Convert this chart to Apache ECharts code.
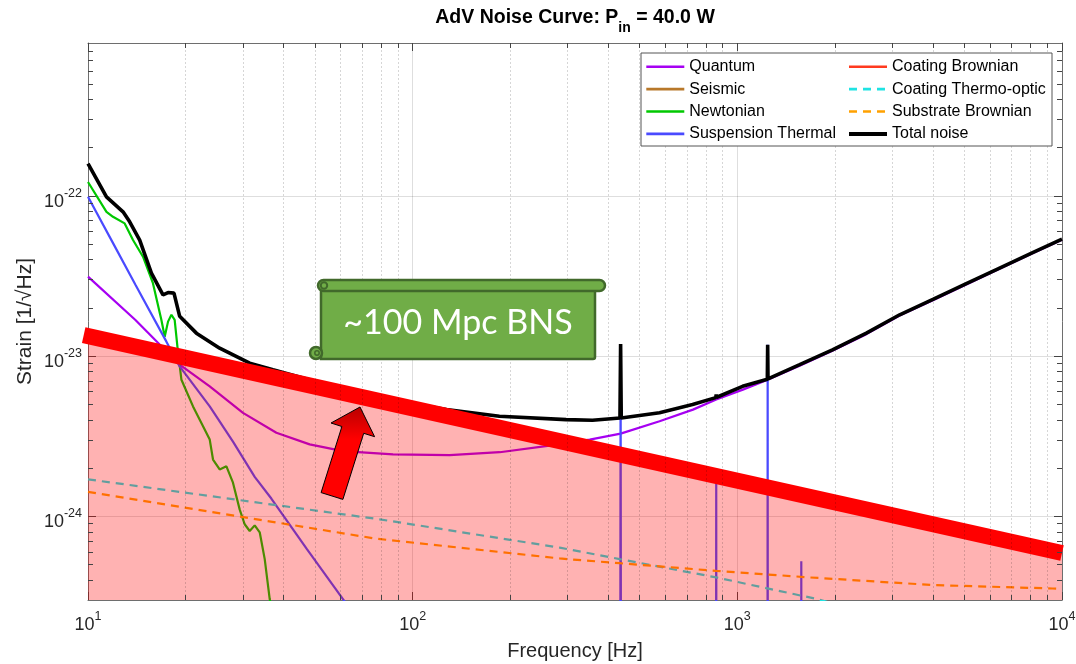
<!DOCTYPE html>
<html><head><meta charset="utf-8">
<script src="https://cdn.jsdelivr.net/npm/echarts@6/dist/echarts.min.js"></script>
<style>html,body{margin:0;padding:0;background:#fff}#c{width:1076px;height:664px}</style>
</head><body><div id="c"></div>
<script>
// ---------------- data ----------------
const quantumF = [10, 14, 19.16, 23.71, 30.02, 38.04, 48.17, 61.0, 87.0, 130, 185.4, 264, 351, 437, 576, 730, 861, 1040, 1240, 1556, 1963, 2497, 3162, 4003, 5073, 6424, 8120, 10000];
const quantumH = [3.13e-23, 1.68e-23, 8.83e-24, 6.47e-24, 4.42e-24, 3.32e-24, 2.81e-24, 2.55e-24, 2.43e-24, 2.41e-24, 2.51e-24, 2.76e-24, 3.01e-24, 3.28e-24, 3.92e-24, 4.63e-24, 5.35e-24, 6.17e-24, 7.11e-24, 8.70e-24, 1.08e-23, 1.37e-23, 1.79e-23, 2.23e-23, 2.80e-23, 3.51e-23, 4.38e-23, 5.33e-23];

const seismicF = [10, 11, 13, 16, 20];
const seismicH = [2.5e-25, 1e-25, 1.5e-26, 1e-27, 3e-29];

const newtonF = [10, 11.4, 11.94, 12.97, 13.76, 14.77, 15.85, 16.83, 17.23, 17.64, 18.07, 18.49, 18.85, 19.40, 21.06, 22.61, 23.71, 24.27, 25.44, 26.69, 27.96, 29.33, 30.38, 31.48, 32.62, 33.80, 35.02, 36.28, 40, 50, 70, 100];
const newtonH = [1.22e-22, 7.95e-23, 7.40e-23, 6.73e-23, 5.30e-23, 4.17e-23, 2.85e-23, 1.68e-23, 1.32e-23, 1.64e-23, 1.81e-23, 1.68e-23, 1.15e-23, 7.11e-24, 4.85e-24, 3.65e-24, 3.01e-24, 2.26e-24, 1.96e-24, 2.05e-24, 1.62e-24, 1.10e-24, 8.91e-25, 8.09e-25, 8.77e-25, 7.94e-25, 5.40e-25, 3.04e-25, 1.2e-25, 1.5e-26, 1e-27, 5e-29];

const suspF = [10, 12, 14, 17.44, 19.16, 23.71, 27.96, 32.62, 36.7, 47.3, 61.0, 80, 120, 200, 300, 435, 437, 439, 600, 858, 861, 864, 1000, 1237, 1240, 1243, 1400, 1571, 1574, 1577, 2000, 5000, 10000];
const suspH = [9.86e-23, 4.98e-23, 2.79e-23, 1.23e-23, 8.61e-24, 4.85e-24, 2.92e-24, 1.76e-24, 1.29e-24, 6.22e-25, 3.04e-25, 1.4e-25, 4e-26, 9e-27, 2.6e-27, 8e-28, 1.19e-23, 8e-28, 3e-28, 1.1e-28, 1.6e-24, 1.1e-28, 7e-29, 3.7e-29, 1.175e-23, 3.7e-29, 2.6e-29, 1.8e-29, 5.24e-25, 1.8e-29, 9e-30, 6e-31, 7e-32];

const coatBrF = [10, 100, 1000, 10000];
const coatBrH = [1.33e-23, 4.7e-24, 1.67e-24, 5.9e-25];

const coatToF = [10, 79.1, 283.6, 434, 861, 1589, 1767, 3000, 10000];
const coatToH = [1.70e-24, 9.57e-25, 6.37e-25, 5.40e-25, 4.15e-25, 3.18e-25, 3.04e-25, 2.2e-25, 8e-26];

const substrF = [10, 77.3, 283.6, 434, 861, 1670, 3995, 9354, 10000];
const substrH = [1.42e-24, 7.24e-25, 5.45e-25, 5.09e-25, 4.56e-25, 4.15e-25, 3.72e-25, 3.54e-25, 3.52e-25];

const totalF = [10, 11.4, 12.82, 13.44, 14.43, 15.68, 17.02, 17.64, 18.40, 19.16, 21.57, 25.44, 31.48, 37.14, 55, 91.2, 127, 185, 297, 358, 435, 437, 439, 576, 728, 858, 861, 864, 1038, 1237, 1240, 1243, 1556, 1963, 2497, 3162, 4003, 5073, 6424, 8120, 10000];
const totalH = [1.59e-22, 9.86e-23, 7.95e-23, 6.89e-23, 5.30e-23, 3.29e-23, 2.41e-23, 2.49e-23, 2.47e-23, 1.77e-23, 1.39e-23, 1.12e-23, 9.03e-24, 8.22e-24, 6.6e-24, 5.21e-24, 4.63e-24, 4.21e-24, 4.01e-24, 3.97e-24, 4.10e-24, 1.19e-23, 4.11e-24, 4.43e-24, 4.98e-24, 5.50e-24, 5.75e-24, 5.53e-24, 6.47e-24, 7.17e-24, 1.175e-23, 7.20e-24, 8.83e-24, 1.093e-23, 1.39e-23, 1.81e-23, 2.26e-23, 2.83e-23, 3.54e-23, 4.42e-23, 5.37e-23];

// ~100 Mpc BNS guide band
const bandF = [9.7, 10000];
const bandH = [1.35e-23, 5.9e-25];
const areaF = [10, 10000];
const areaH = [1.33e-23, 5.9e-25];

const legendLeft = ['Quantum', 'Seismic', 'Newtonian', 'Suspension Thermal'];
const legendRight = ['Coating Brownian', 'Coating Thermo-optic', 'Substrate Brownian', 'Total noise'];
const xMin = 10, xMax = 10000, yMin = 3e-25, yMax = 9e-22;
// -----------------------------------------------------------------

const zip = (f, h) => f.map((v, i) => [v, h[i]]);
const FONT = 'Liberation Sans, Arial, Helvetica, sans-serif';
const chart = echarts.init(document.getElementById('c'), null, {renderer: 'canvas'});

const xMinor = []; [10, 100, 1000].forEach(d => { for (let m = 2; m <= 9; m++) xMinor.push(m * d); });
const yMinor = []; [1e-25, 1e-24, 1e-23, 1e-22].forEach(d => { for (let m = 2; m <= 9; m++) { const v = m * d; if (v > 3.01e-25 && v < 8.99e-22) yMinor.push(v); } });

const minorGrid = [];
xMinor.forEach(v => minorGrid.push({xAxis: v}));
yMinor.forEach(v => minorGrid.push({yAxis: v}));
const minorTicks = [];
xMinor.forEach(v => {
  minorTicks.push([{coord: [v, yMin]}, {coord: [v, yMin * 1.0745]}]);
  minorTicks.push([{coord: [v, yMax]}, {coord: [v, yMax / 1.0745]}]);
});
yMinor.forEach(v => {
  minorTicks.push([{coord: [xMin, v]}, {coord: [xMin * 1.036, v]}]);
  minorTicks.push([{coord: [xMax, v]}, {coord: [xMax / 1.036, v]}]);
});

const isDecade = v => v > 0 && Math.abs(Math.log10(v) - Math.round(Math.log10(v))) < 1e-6;
const labelFmt = v => isDecade(v) ? '{b|10}{e|' + Math.round(Math.log10(v)) + '}' : '';
const labelRich = {
  b: {fontSize: 18, lineHeight: 18, padding: [6, 0, 0, 0], verticalAlign: 'top', color: '#262626', fontFamily: FONT},
  e: {fontSize: 12.5, lineHeight: 12, verticalAlign: 'top', color: '#262626', fontFamily: FONT}
};

function lineSeries(name, f, h, color, width, dashed, z) {
  return {
    name, type: 'line', data: zip(f, h), symbol: 'none', showSymbol: false, silent: true,
    z: z || 2, animation: false,
    lineStyle: {color, width, type: dashed ? [8, 6] : 'solid', cap: 'butt'},
    itemStyle: {color}, emphasis: {disabled: true}
  };
}

const axisCommon = {
  type: 'log', logBase: 10,
  axisLine: {show: true, onZero: false, lineStyle: {color: '#6e6e6e', width: 1}},
  axisTick: {show: true, inside: true, length: 8, lineStyle: {color: '#444', width: 1}},
};
const legendItem = name => ({name, lineStyle: {width: name === 'Total noise' ? 4 : 2.6}});
const legendCommon = {
  orient: 'vertical', top: 58.7, padding: 0, itemWidth: 38, itemHeight: 14, itemGap: 6.4,
  selectedMode: false, z: 60, itemStyle: {opacity: 0, borderWidth: 0},
  textStyle: {fontSize: 16, lineHeight: 16, fontFamily: FONT, color: '#000'}
};

const option = {
  animation: false,
  backgroundColor: '#fff',
  title: {
    text: '{t|AdV Noise Curve: P}{s|in}{t| = 40.0 W}',
    left: 575, top: 8, textAlign: 'center', padding: 0,
    textStyle: {rich: {
      t: {fontSize: 19.5, fontWeight: 'bold', fontFamily: FONT, color: '#000', lineHeight: 22, verticalAlign: 'top'},
      s: {fontSize: 14, fontWeight: 'bold', fontFamily: FONT, color: '#000', lineHeight: 14, padding: [13, 0, 0, 0], verticalAlign: 'top'}
    }}
  },
  grid: {left: 88, right: 14, top: 43, bottom: 64, outerBoundsMode: 'none'},
  xAxis: [
    Object.assign({}, axisCommon, {
      position: 'bottom', min: xMin, max: xMax,
      axisLabel: {formatter: labelFmt, rich: labelRich, margin: 10, showMinLabel: true, showMaxLabel: true},
      splitLine: {show: true, lineStyle: {color: 'rgba(0,0,0,0.13)', width: 1}},
      name: 'Frequency [Hz]', nameLocation: 'middle', nameGap: 41, nameMoveOverlap: false,
      nameTextStyle: {fontSize: 20, fontFamily: FONT, color: '#262626'}
    }),
    Object.assign({}, axisCommon, {
      position: 'top', min: xMin, max: xMax,
      axisLabel: {show: false}, splitLine: {show: false}
    })
  ],
  yAxis: [
    Object.assign({}, axisCommon, {
      position: 'left', min: yMin, max: yMax,
      axisLabel: {formatter: labelFmt, rich: labelRich, margin: 6},
      splitLine: {show: true, lineStyle: {color: 'rgba(0,0,0,0.13)', width: 1}},
      name: 'Strain [1/\u221AHz]', nameLocation: 'middle', nameGap: 52, nameMoveOverlap: false,
      nameTextStyle: {fontSize: 21, fontFamily: FONT, color: '#262626'}
    }),
    Object.assign({}, axisCommon, {
      position: 'right', min: yMin, max: yMax,
      axisLabel: {show: false}, splitLine: {show: false}
    })
  ],
  legend: [
    Object.assign({}, legendCommon, {data: legendLeft.map(legendItem), left: 645}),
    Object.assign({}, legendCommon, {data: legendRight.map(legendItem), left: 847})
  ],
  series: [
    {
      name: '_grid', type: 'line', data: [[10, 1e-30]], symbol: 'none', silent: true, z: 1,
      lineStyle: {opacity: 0},
      markLine: {
        silent: true, symbol: ['none', 'none'], label: {show: false}, animation: false,
        lineStyle: {color: 'rgba(0,0,0,0.16)', width: 1, type: [2, 2]},
        emphasis: {disabled: true},
        data: minorGrid
      }
    },
    {
      name: '_ticks', type: 'line', data: [[10, 1e-30]], symbol: 'none', silent: true, z: 5,
      lineStyle: {opacity: 0},
      markLine: {
        silent: true, symbol: ['none', 'none'], label: {show: false}, animation: false,
        lineStyle: {color: '#444', width: 1, type: 'solid'},
        emphasis: {disabled: true},
        data: minorTicks
      }
    },
    lineSeries('Quantum', quantumF, quantumH, '#A600F2', 2.2),
    lineSeries('Seismic', seismicF, seismicH, '#B8782A', 2),
    lineSeries('Newtonian', newtonF, newtonH, '#00C800', 2.2),
    lineSeries('Suspension Thermal', suspF, suspH, '#4A4AFF', 2.2),
    lineSeries('Coating Brownian', coatBrF, coatBrH, '#FF3A1F', 2.2),
    lineSeries('Coating Thermo-optic', coatToF, coatToH, '#1FE3E3', 2.2, true),
    lineSeries('Substrate Brownian', substrF, substrH, '#FFA100', 2.2, true),
    lineSeries('Total noise', totalF, totalH, '#000000', 3.6),
    {
      name: '_bnsArea', type: 'line', data: zip(areaF, areaH), symbol: 'none', silent: true, z: 3,
      lineStyle: {width: 0, opacity: 0},
      areaStyle: {color: 'rgba(255,0,0,0.3)', opacity: 1, origin: yMin}
    },
    {
      name: '_bnsBand', type: 'line', data: zip(bandF, bandH), symbol: 'none', silent: true, z: 4, clip: false,
      lineStyle: {color: '#FF0000', width: 16, cap: 'butt'}
    }
  ],
  graphic: [
    {type: 'rect', z: 50, silent: true, shape: {x: 641, y: 53, width: 411, height: 93},
     style: {fill: '#fff', stroke: '#555', lineWidth: 1}},
    {type: 'rect', z: 100, silent: true, shape: {x: 321, y: 285, width: 274, height: 74, r: [0, 0, 2, 0]},
     style: {fill: '#70AD47', stroke: '#41692B', lineWidth: 2.5}},
    {type: 'rect', z: 101, silent: true, shape: {x: 318, y: 280, width: 287, height: 11, r: 5.5},
     style: {fill: '#70AD47', stroke: '#41692B', lineWidth: 2.5}},
    {type: 'circle', z: 102, silent: true, shape: {cx: 324, cy: 285.5, r: 3.2},
     style: {fill: '#70AD47', stroke: '#41692B', lineWidth: 2}},
    {type: 'circle', z: 102, silent: true, shape: {cx: 316, cy: 353, r: 6},
     style: {fill: '#70AD47', stroke: '#41692B', lineWidth: 2.5}},
    {type: 'circle', z: 103, silent: true, shape: {cx: 317, cy: 353, r: 2.2},
     style: {fill: '#70AD47', stroke: '#41692B', lineWidth: 1.5}},
    {type: 'text', z: 104, silent: true,
     style: {text: '~100 Mpc BNS', x: 458, y: 323, fill: '#fff', fontSize: 34, fontFamily: 'Lato, Open Sans, sans-serif', align: 'center', verticalAlign: 'middle'}},
    {type: 'polygon', z: 100, silent: true,
     shape: {points: [[360, 407], [374.6, 436.7], [363.7, 433.3], [342.9, 499.4], [321.1, 492.6], [341.9, 426.5], [331, 423]]},
     style: {fill: new echarts.graphic.LinearGradient(0, 0, 0, 1, [
       {offset: 0, color: '#B80000'}, {offset: 0.35, color: '#FF0000'}, {offset: 1, color: '#FF0000'}]),
       stroke: '#000', lineWidth: 1}}
  ]
};
chart.setOption(option);
</script>
</body></html>
